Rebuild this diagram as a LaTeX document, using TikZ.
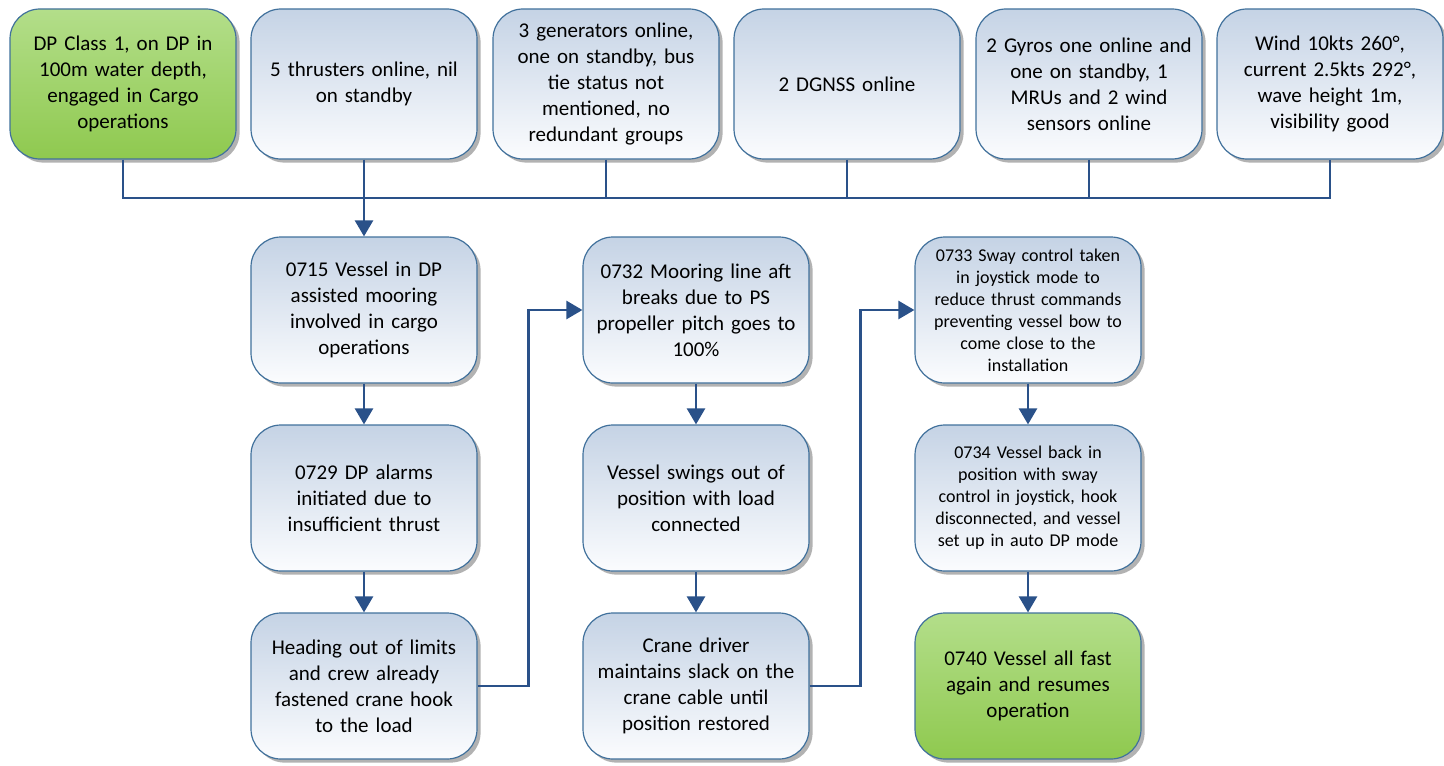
\documentclass[tikz,border=0pt]{standalone}
\usepackage{fontspec}
\setmainfont{Carlito}
\usetikzlibrary{arrows.meta}
\usetikzlibrary{shadows}
\definecolor{boxtop}{HTML}{C5D3E5}
\definecolor{boxbot}{HTML}{FBFCFE}
\definecolor{gtop}{HTML}{B3DE8A}
\definecolor{gbot}{HTML}{8FC94F}
\definecolor{edgeblue}{HTML}{41719C}
\definecolor{lnblue}{HTML}{2A5189}
\tikzset{
	% event boxes
	evbox/.style={draw=edgeblue,line width=0.6pt,rounded corners=15pt,
		minimum width=113pt,minimum height=73pt,text width=104pt,align=center,
		top color=boxtop,bottom color=boxbot,inner sep=0pt,
		drop shadow={shadow xshift=1.8pt,shadow yshift=-1.8pt,fill=black!60,opacity=0.5},
		font=\fontsize{10.5}{13}\selectfont},
	topbox/.style={evbox,minimum height=75pt},
	gbox/.style={top color=gtop,bottom color=gbot},
	smalltxt/.style={font=\fontsize{9}{11}\selectfont},
	% connectors
	lnk/.style={draw=lnblue,line width=1.3pt},
	arr/.style={lnk,-{Triangle[width=9pt,length=8pt]}},
}
\begin{document}
\begin{tikzpicture}[x=0.5pt,y=-0.5pt]
	\useasboundingbox (0,0) rectangle (1444,765);
	
	% top row
	\node[topbox,gbox] (cls) at (123,84) {DP Class 1, on DP in\\100m water depth,\\engaged in Cargo\\operations};
	\node[topbox] (thr) at (364,84) {5 thrusters online, nil\\on standby};
	\node[topbox] (gen) at (606,84) {3 generators online,\\one on standby, bus\\tie status not\\mentioned, no\\redundant groups};
	\node[topbox] (gnss) at (847,84) {2 DGNSS online};
	\node[topbox] (gyro) at (1089,84) {2 Gyros one online and\\one on standby, 1\\MRUs and 2 wind\\sensors online};
	\node[topbox] (env) at (1330,84) {Wind 10kts 260°,\\current 2.5kts 292°,\\wave height 1m,\\visibility good};
	
	% first column
	\node[evbox] (e0715) at (364,310) {0715 Vessel in DP\\assisted mooring\\involved in cargo\\operations};
	\node[evbox] (e0729) at (364,498) {0729 DP alarms\\initiated due to\\insufficient thrust};
	\node[evbox] (ehdg) at (364,686) {Heading out of limits\\and crew already\\fastened crane hook\\to the load};
	
	% second column
	\node[evbox] (e0732) at (696,310) {0732 Mooring line aft\\breaks due to PS\\propeller pitch goes to\\100\%};
	\node[evbox] (eswing) at (696,498) {Vessel swings out of\\position with load\\connected};
	\node[evbox] (ecrane) at (696,686) {Crane driver\\maintains slack on the\\crane cable until\\position restored};
	
	% third column
	\node[evbox,smalltxt] (e0733) at (1028,310) {0733 Sway control taken\\in joystick mode to\\reduce thrust commands\\preventing vessel bow to\\come close to the\\installation};
	\node[evbox,smalltxt] (e0734) at (1028,498) {0734 Vessel back in\\position with sway\\control in joystick, hook\\disconnected, and vessel\\set up in auto DP mode};
	\node[evbox,gbox] (e0740) at (1028,686) {0740 Vessel all fast\\again and resumes\\operation};
	
	% bus line
	\coordinate (bus) at (0,198);
	\draw[lnk] (cls.south) -- (cls.south |- bus) -- (env.south |- bus) -- (env.south);
	\draw[lnk] (gen.south) -- (gen.south |- bus);
	\draw[lnk] (gnss.south) -- (gnss.south |- bus);
	\draw[lnk] (gyro.south) -- (gyro.south |- bus);
	\draw[arr] (thr.south) -- (e0715.north);
	
	% flow
	\draw[arr] (e0715) -- (e0729);
	\draw[arr] (e0729) -- (ehdg);
	\draw[arr] (ehdg.east) -- ++(51,0) |- (e0732.west);
	\draw[arr] (e0732) -- (eswing);
	\draw[arr] (eswing) -- (ecrane);
	\draw[arr] (ecrane.east) -- ++(51,0) |- (e0733.west);
	\draw[arr] (e0733) -- (e0734);
	\draw[arr] (e0734) -- (e0740);
	
\end{tikzpicture}
\end{document}
